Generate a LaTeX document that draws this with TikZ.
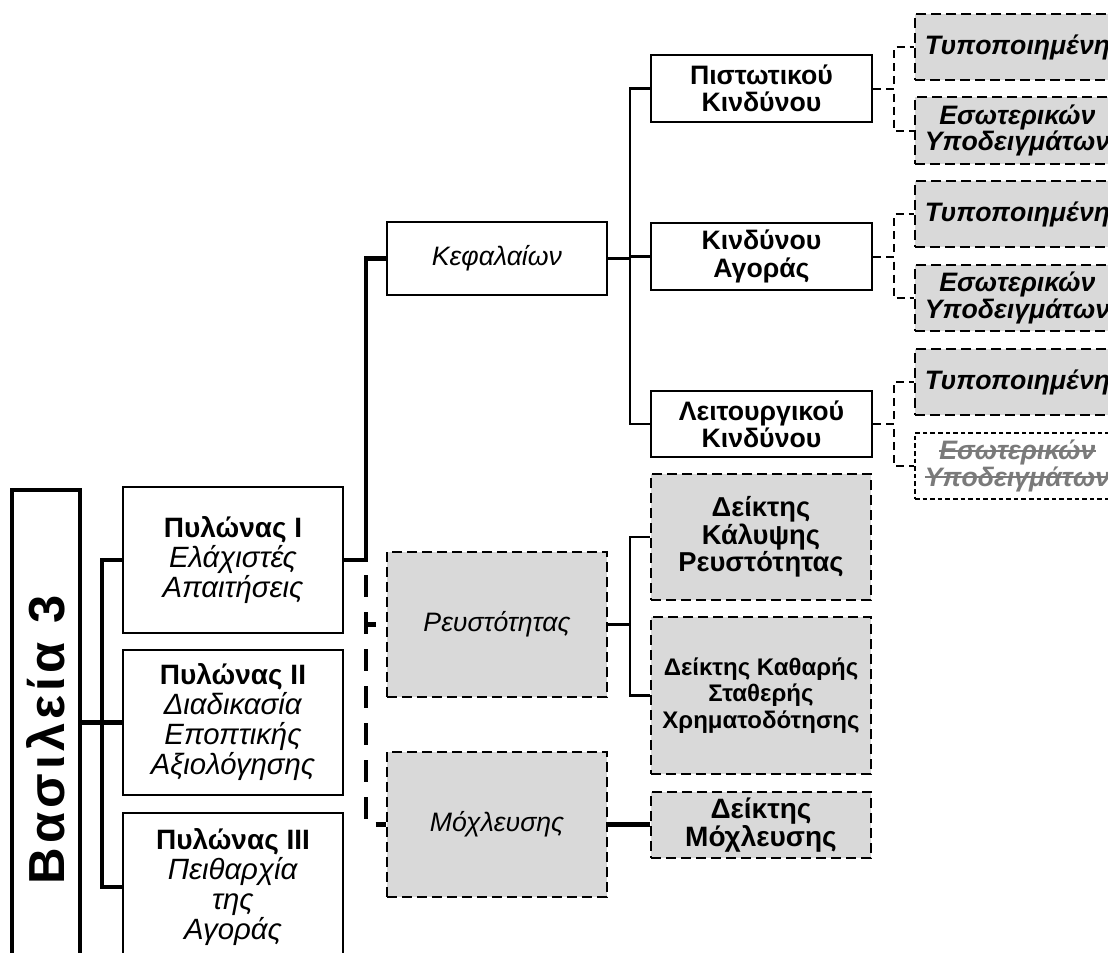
\documentclass[tikz,border=0pt]{standalone}
\usepackage{fontspec}
\setmainfont{Liberation Sans}
\newfontfamily\spacedfont[LetterSpace=8]{Liberation Sans}
\newcommand\strk[1]{\setbox0\hbox{#1}\copy0\kern-\wd0\rule[0.3em]{\wd0}{0.08em}}
\definecolor{boxgray}{HTML}{D9D9D9}
\definecolor{strikegray}{HTML}{7A7A7A}
\def\u{0.75pt}
\tikzset{
  solidbox/.style={draw, line width=1.8pt, fill=white, inner sep=0pt, align=center},
  dashbox/.style={draw, line width=1.7pt, dash pattern=on 7.5pt off 3.75pt, fill=boxgray, inner sep=0pt, align=center},
  finebox/.style={draw, line width=1.5pt, dash pattern=on 3.5pt off 2.2pt, fill=white, inner sep=0pt, align=center},
  thickline/.style={line width=3.4pt},
  thinline/.style={line width=1.6pt},
  thickdash/.style={line width=3.4pt, dash pattern=on 16.5pt off 11.25pt},
  thindash/.style={line width=1.5pt, dash pattern=on 6pt off 3.75pt},
  pfont/.style={font=\fontsize{22}{22.5}\selectfont},
  ifont/.style={font=\fontsize{20}{22}\selectfont\itshape},
  rfont/.style={font=\fontsize{20}{20.5}\selectfont\bfseries},
  bifont/.style={font=\fontsize{20}{20}\selectfont\bfseries\itshape},
}
\newcommand\ptitle[1]{{\fontsize{21}{22.5}\selectfont\bfseries #1}}
\begin{document}
\begin{tikzpicture}[x=0.75pt,y=-0.75pt]
\useasboundingbox (0,0) rectangle (1108,953);
\clip (0,0) rectangle (1108,953);
% level 0
\node[solidbox, line width=3.2pt, minimum width=68*\u, minimum height=500*\u] (vas) at (46,740)
  {\rotatebox{90}{\spacedfont\bfseries\fontsize{38}{42}\selectfont Βασιλεία 3}};
% pillars
\node[solidbox, pfont, minimum width=220*\u, minimum height=146*\u] (p1) at (233,560)
  {\ptitle{Πυλώνας I}\\\textit{Ελάχιστές}\\\textit{Απαιτήσεις}};
\node[solidbox, pfont, minimum width=220*\u, minimum height=145*\u] (p2) at (233,722.5)
  {\ptitle{Πυλώνας II}\\\textit{Διαδικασία}\\\textit{Εποπτικής}\\\textit{Αξιολόγησης}};
\node[solidbox, pfont, minimum width=220*\u, minimum height=148*\u] (p3) at (233,887)
  {\ptitle{Πυλώνας III}\\\textit{Πειθαρχία}\\\textit{της}\\\textit{Αγοράς}};
% second level
\node[solidbox, ifont, minimum width=220*\u, minimum height=73*\u] (kef) at (497,258.5) {Κεφαλαίων};
\node[dashbox, ifont, minimum width=220*\u, minimum height=145*\u] (rev) at (497,624.5) {Ρευστότητας};
\node[dashbox, ifont, minimum width=220*\u, minimum height=145*\u] (mox) at (497,824.5) {Μόχλευσης};
% third level
\node[solidbox, rfont, minimum width=221*\u, minimum height=67*\u] (pk) at (761.5,88.5) {Πιστωτικού\\Κινδύνου};
\node[solidbox, rfont, minimum width=221*\u, minimum height=67*\u] (ka) at (761.5,256.5) {Κινδύνου\\Αγοράς};
\node[solidbox, rfont, minimum width=221*\u, minimum height=66*\u] (lk) at (761.5,424) {Λειτουργικού\\Κινδύνου};
\node[dashbox, font=\fontsize{20.5}{20.5}\selectfont\bfseries, minimum width=220*\u, minimum height=126*\u] (dk) at (761,537)
  {Δείκτης\\Κάλυψης\\Ρευστότητας};
\node[dashbox, font=\fontsize{18}{20}\selectfont\bfseries, minimum width=220*\u, minimum height=157*\u] (dks) at (761,695.5)
  {Δείκτης Καθαρής\\Σταθερής\\Χρηματοδότησης};
\node[dashbox, font=\fontsize{21}{21}\selectfont\bfseries, minimum width=220*\u, minimum height=66*\u] (dm) at (761,825)
  {Δείκτης\\Μόχλευσης};
% fourth level
\node[dashbox, bifont, minimum width=205*\u, minimum height=66*\u] (t1) at (1017.5,47) {Τυποποιημένη};
\node[dashbox, bifont, minimum width=205*\u, minimum height=67*\u] (e1) at (1017.5,130.5) {Εσωτερικών\\Υποδειγμάτων};
\node[dashbox, bifont, minimum width=205*\u, minimum height=66*\u] (t2) at (1017.5,214) {Τυποποιημένη};
\node[dashbox, bifont, minimum width=205*\u, minimum height=66*\u] (e2) at (1017.5,298) {Εσωτερικών\\Υποδειγμάτων};
\node[dashbox, bifont, minimum width=205*\u, minimum height=66*\u] (t3) at (1017.5,382) {Τυποποιημένη};
\node[finebox, bifont, text=strikegray, minimum width=205*\u, minimum height=66*\u] (e3) at (1017.5,466)
  {\strk{Εσωτερικών}\\\strk{Υποδειγμάτων}};
% connectors
\draw[thickline] (vas.east |- p2.west) -- (p2.west);
\draw[thickline] (p1.west) -- ++(-20,0) |- (p3.west);
\draw[thickline] (p1.east) -- ++(22,0) |- (kef.west);
\draw[thickdash] (p1.east) -- ++(22,0) |- (rev.west);
\draw[thickdash] (p1.east) -- ++(22,0) |- (mox.west);
\draw[thinline] (kef.east) -- ++(22,0) |- (pk.west);
\draw[thinline] (kef.east) -- ++(22,0) |- (ka.west);
\draw[thinline] (kef.east) -- ++(22,0) |- (lk.west);
\draw[thinline] (rev.east) -- ++(22,0) |- (dk.west);
\draw[thinline] (rev.east) -- ++(22,0) |- (dks.west);
\draw[thickline] (mox.east) -- (mox.east -| dm.west);
\draw[thindash] (pk.east) -- ++(21,0) |- (t1.west);
\draw[thindash] (pk.east) -- ++(21,0) |- (e1.west);
\draw[thindash] (ka.east) -- ++(21,0) |- (t2.west);
\draw[thindash] (ka.east) -- ++(21,0) |- (e2.west);
\draw[thindash] (lk.east) -- ++(21,0) |- (t3.west);
\draw[thindash] (lk.east) -- ++(21,0) |- (e3.west);
\end{tikzpicture}
\end{document}
